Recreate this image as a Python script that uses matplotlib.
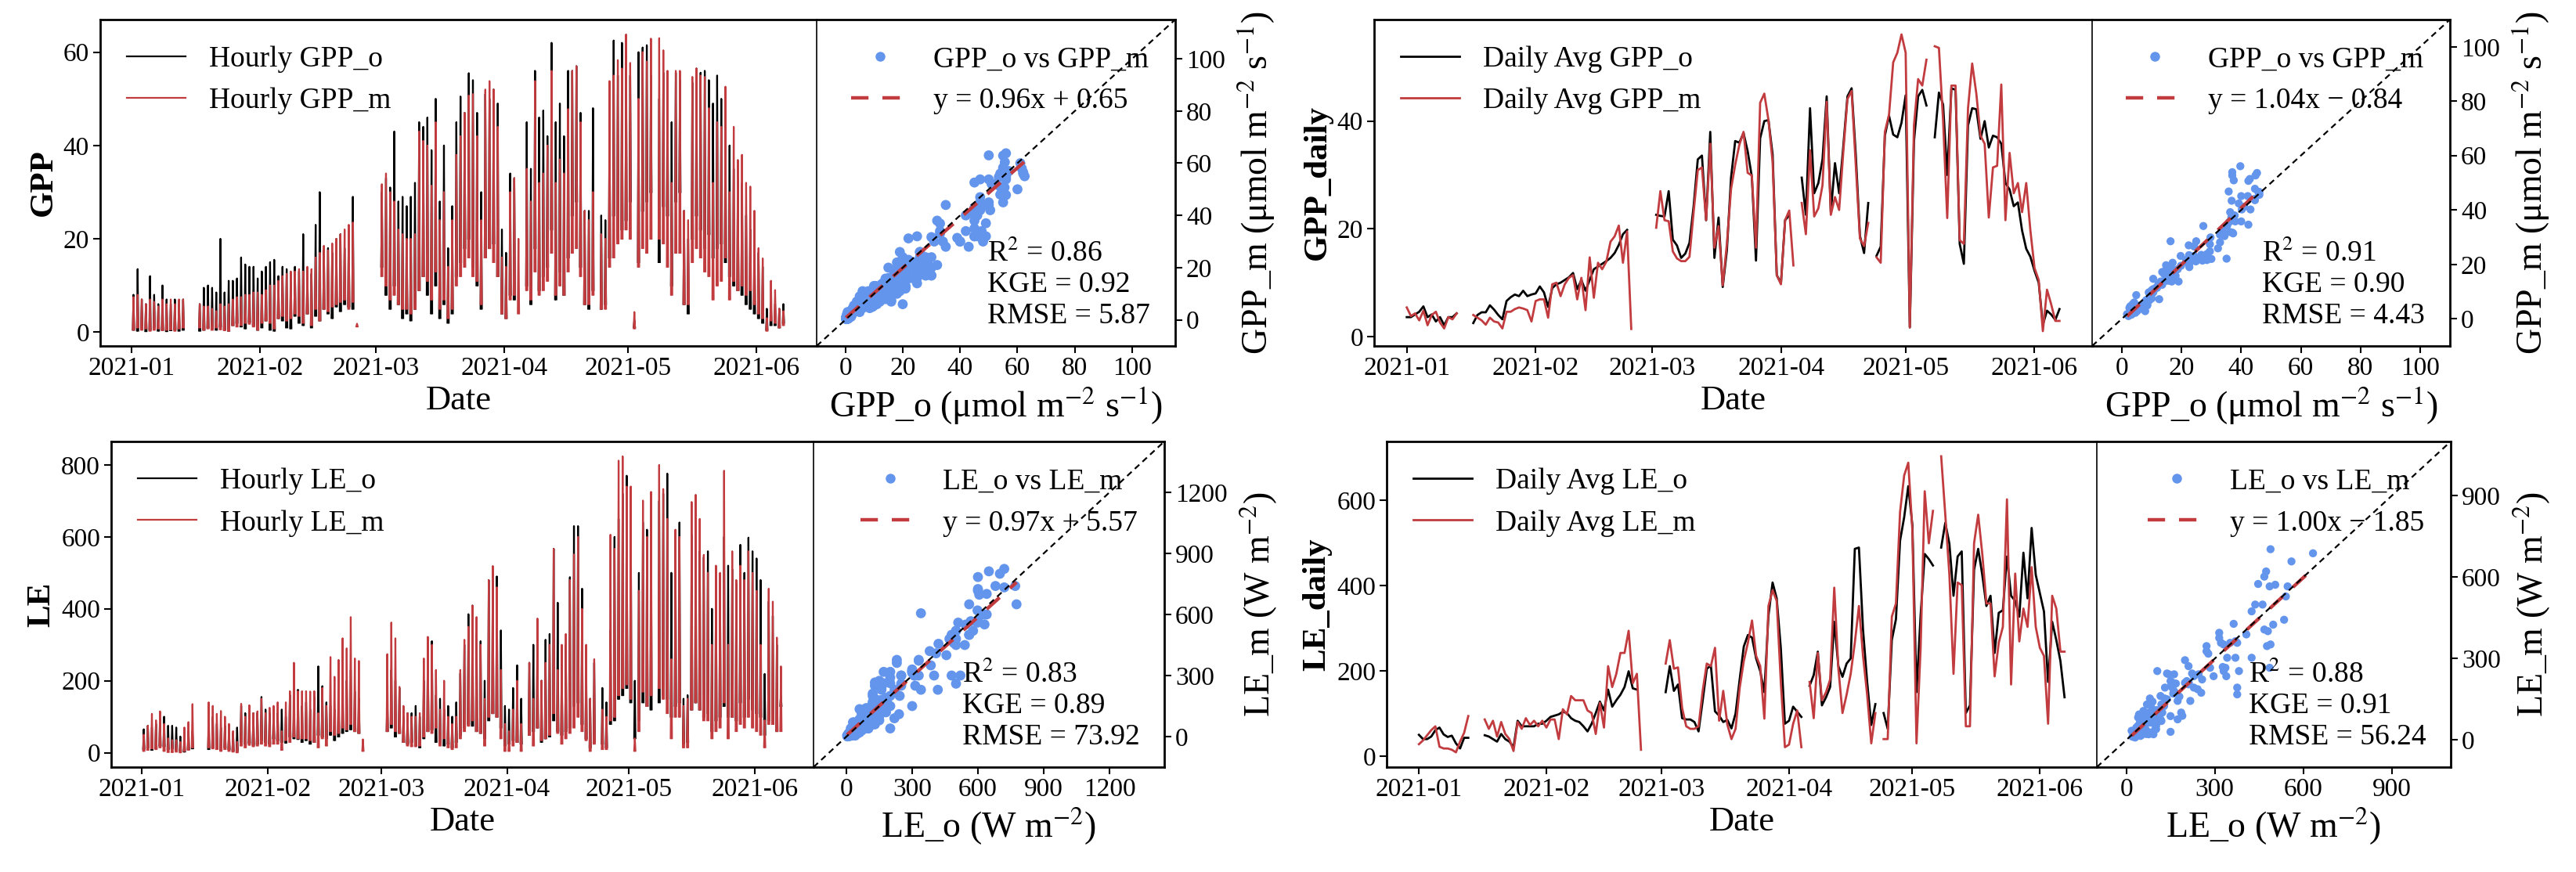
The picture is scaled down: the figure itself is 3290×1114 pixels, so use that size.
import numpy as np
import pandas as pd
import matplotlib
matplotlib.use('Agg')
import matplotlib.pyplot as plt
import matplotlib.dates as mdates
from matplotlib.lines import Line2D

plt.rcParams['font.family'] = ['Liberation Serif', 'DejaVu Serif']
plt.rcParams['mathtext.fontset'] = 'stix'

nan = np.nan
days = pd.date_range('2021-01-01', periods=158, freq='D')
sample_hours = [8, 12, 16]   # morning, midday, afternoon sample of each day

# ---------------- hourly GPP (daily low / peak of the hourly curve) ----------------
gpp_h_o_hi = [8, 13.5, 7, 6, 12, 8, 6, 10, 7, 6, 7, 6, 7,
              nan, nan, nan,
              6, 9.5, 10, 9.5, 8.5, 20, 8.5, 11, 11, 11.5, 16, 14.5, 14, 14, 11.5,
              13, 14, 15, 15.5, 12, 14, 13.5, 10.5, 14, 13, 21, 13, 12.5, 23, 30, 17.5,
              18, 17, 20, 21, 18, 22, 29,
              nan, nan, nan, nan, nan, nan,
              30, 33, 31, 43, 28, 29, 27, 29, 32, 45, 44, 46, 39, 50, 28, 40, 18, 27, 45, 50.5,
              47, 55.5, 54, 47, 30, 51, 50, 52, 49, 22, 17, 34, 33,
              nan, nan,
              45, 35, 56, 46, 47.5, 42, 62, 45, 49, 42, 56, 56, 57, 47, 26, 26, 48,
              nan,
              25, 24, 47, 62.5, 55, 62, 56, 55, 2.5, 60, 61, 61.5, 55,
              nan,
              50, 55.6, 55, 45, 55.6, 54, 26, 20, 53.5, 56.5, 55.6, 56, 54, 49, 55, 50, 45, 40,
              35, 33, 32, 25, 22, 19, 17, 14, 5, 6, 6, 5, 6]
gpp_h_o_lo = [0.5, 0.3, 0.8, 0.2, 0.5, 1.0, 0.3, 0.5, 0.2, 0.4, 0.6, 0.3, 0.5,
              nan, nan, nan,
              0.3, 0.5, 1.0, 0.8, 0.5, 1.2, 0.6, 0.3, 1.5, 2.0, 1.2, 0.8, 2.2, 1.5, 0.5,
              1.0, 2.5, 0.5, 0.3, 3.0, 2.5, 1.0, 0.8, 3.5, 2.0, 1.5, 4.0, 1.0, 3.5, 2.5, 5.0,
              4.0, 3.0, 5.5, 4.5, 6.0, 5.5, 5.0,
              nan, nan, nan, nan, nan, nan,
              14, 8, 5, 10, 6, 3, 4, 2.5, 5, 9, 12, 8, 4, 10, 3, 6, 2, 4, 12, 15,
              18, 20, 14, 10, 5, 16, 18, 19, 12, 4, 3, 8, 7,
              nan, nan,
              10, 6, 18, 9, 12, 14, 22, 7, 13, 8, 16, 25, 28, 14, 6, 5, 9,
              nan,
              5, 6, 16, 25, 20, 22, 24, 28, 1.0, 15, 26, 28, 30,
              nan,
              15, 27, 25, 10, 28, 30, 6, 4, 20, 25, 22, 18, 21, 16, 18, 19, 15, 12,
              10, 9, 8, 6, 5, 4, 3, 2, 0.5, 1.5, 1.5, 1.0, 2.0]
gpp_h_m_hi = [7.5, 8, 7, 6, 7, 6.5, 5.5, 7, 6, 7, 6, 7, 7,
              nan, nan, nan,
              6, 5.5, 5.5, 5, 4.5, 6, 5.5, 6, 7, 7.5, 7.5, 8, 8, 8.5, 8.5,
              8, 9, 10, 10, 11, 12, 12.5, 13, 13, 13.5, 13, 14, 13.5, 16, 17, 18.5,
              17.5, 19, 20, 21, 22, 23, 23.5, 1.8,
              nan, nan, nan, nan, nan,
              31.7, 34, 30, 28, 22, 21, 20, 20, 21, 43, 41, 40, 31.4, 45, 24, 30, 14, 24, 38, 42,
              47, 50.7, 51, 42, 24, 52, 53.8, 52, 44, 16, 14, 30, 33, 20,
              nan,
              35, 28, 53.8, 32, 34, 40, 56, 32, 37, 34, 47.8, 56, 57, 45, 26, 24, 30,
              nan,
              21, 20, 53.8, 55, 58.3, 56.5, 63.8, 57.7, 4.3, 50, 60, 58, 62.9,
              nan,
              63, 60.4, 56, 32, 56, 56, 26, 24, 54.7, 56.5, 55, 54.7, 48, 32, 45, 44, 52.6, 30,
              44, 36.9, 38, 32, 31.2, 26, 18, 15.8, 3, 11, 9, 5, 4.5]
gpp_h_m_lo = [0.5, 1.0, 0.5, 0.8, 0.3, 0.5, 0.8, 0.4, 0.5, 0.6, 0.3, 0.8, 1.0,
              nan, nan, nan,
              1.0, 0.5, 0.8, 0.5, 1.0, 0.6, 0.4, 0.3, 1.5, 1.2, 1.5, 2.0, 1.8, 1.2, 0.5,
              2.0, 2.5, 2.0, 0.8, 3.0, 3.5, 2.5, 3.0, 4.0, 3.5, 2.0, 4.0, 1.5, 5.0, 2.5, 5.0,
              4.5, 5.5, 6.0, 6.5, 7.0, 5.0, 6.5, 1.2,
              nan, nan, nan, nan, nan,
              12, 10, 7, 8, 6, 5, 5, 4, 5, 9, 12, 11, 7, 13, 5, 7, 3, 5, 10, 12,
              14, 16, 12, 11, 6, 16, 18, 15, 12, 4, 3, 7, 8, 4,
              nan,
              9, 7, 13, 8, 9, 11, 17, 8, 10, 8, 13, 17, 18, 12, 6, 6, 8,
              nan,
              5, 5, 14, 16, 19, 20, 22, 20, 0.8, 14, 18, 17, 20,
              nan,
              20, 19, 14, 8, 17, 17, 6, 6, 15, 18, 16, 13, 12, 7, 10, 11, 16, 7,
              11, 9, 10, 8, 9, 6, 4, 3, 0.3, 2.5, 2, 1, 1.5]

# ---------------- hourly LE ----------------
le_h_o_hi = [65, 75, 70, 80, 95, 100, 75, 75, 70, 45, 35, 60, 60,
             nan, nan, nan,
             90, 100, 80, 70, 75, 60, 55, 70, 130, 110, 120, 110, 110, 155, 120, 110,
             120, 110, 120, 100, 160, 130, 175, 130, 140, 120, 155, 240, 185, 140, 130, 120,
             150, 170, 200, 230, 170, 150,
             nan, nan, nan, nan, nan, nan,
             150, 230, 200, 180, 100, 110, 110, 130, 100, 200, 300, 310, 160, 150, 120, 130, 100,
             140, 220, 300, 385, 409, 330, 310, 200, 480, 500, 490, 340, 130, 120, 180, 243, 150,
             nan,
             250, 300, 330, 200, 314, 330, 567, 417, 250, 300, 488, 630, 630, 456, 250, 150, 250,
             nan,
             180, 140, 340, 600, 650, 720, 770, 680, 200, 500, 640, 620, 600,
             nan,
             700, 720, 776, 500, 598, 640, 150, 160, 606, 600, 560, 543, 560, 400, 500, 480, 600,
             520, 510, 470, 578, 500, 598, 560, 540, 480, 219, 420, 380, 300, 160]
le_h_o_lo = [10, 15, 8, 12, 20, 18, 10, 12, 8, 5, 3, 10, 12,
             nan, nan, nan,
             10, 15, 12, 8, 15, 10, 6, 5, 30, 25, 28, 22, 25, 35, 30, 25,
             40, 35, 30, 28, 45, 40, 38, 30, 35, 25, 30, 50, 45, 40, 50, 35,
             45, 55, 60, 65, 60, 55,
             nan, nan, nan, nan, nan, nan,
             60, 70, 45, 55, 30, 25, 30, 20, 15, 40, 60, 65, 30, 25, 20, 25, 15,
             30, 50, 70, 80, 75, 60, 55, 40, 90, 110, 100, 70, 20, 25, 35, 30, 25,
             nan,
             50, 60, 70, 30, 40, 45, 90, 60, 50, 60, 70, 130, 140, 80, 40, 15, 30,
             nan,
             25, 15, 80, 90, 150, 160, 180, 140, 40, 90, 140, 130, 120,
             nan,
             140, 160, 150, 100, 130, 140, 25, 30, 120, 140, 120, 100, 110, 60, 90, 100, 130,
             100, 100, 90, 140, 100, 150, 120, 110, 100, 50, 90, 80, 60, 130]
le_h_m_hi = [50, 75, 108, 90, 115, 80, 40, 35, 35, 30, 70, 85, 135,
             nan, nan, nan,
             140, 130, 108, 116, 100, 80, 60, 30, 136, 100, 132, 110, 115, 150, 110, 125,
             130, 140, 60, 140, 171, 250, 171, 171, 171, 170, 171, 110, 180, 130, 266, 211,
             258, 318, 290, 377, 262, 255, 37,
             nan, nan, nan, nan, nan,
             274, 362, 318, 183, 130, 110, 100, 100, 110, 262, 322, 300, 230, 120, 200, 100, 80,
             100, 230, 314, 350, 409, 377, 300, 150, 480, 519, 460, 230, 80, 60, 120, 200, 80,
             nan,
             250, 150, 373, 200, 250, 300, 567, 230, 300, 330, 480, 551, 600, 400, 300, 150, 260,
             nan,
             120, 100, 606, 567, 812, 824, 740, 740, 40, 450, 701, 600, 725,
             nan,
             800, 733, 650, 260, 620, 600, 130, 150, 697, 717, 650, 550, 500, 300, 520, 500, 784,
             300, 560, 480, 520, 480, 560, 500, 450, 300, 90, 456, 420, 320, 240]
le_h_m_lo = [5, 8, 12, 10, 15, 5, 2, 2, 3, 1, 5, 8, 15,
             nan, nan, nan,
             15, 12, 10, 5, 10, 5, 3, 1, 20, 15, 22, 18, 20, 25, 20, 18,
             25, 25, 8, 35, 30, 45, 40, 40, 40, 35, 30, 15, 40, 20, 60, 50,
             55, 70, 65, 80, 60, 55, 5,
             nan, nan, nan, nan, nan,
             60, 80, 60, 55, 30, 20, 18, 18, 20, 45, 60, 55, 70, 20, 40, 15, 10,
             15, 40, 60, 75, 90, 60, 55, 20, 100, 110, 100, 40, 5, 5, 20, 30, 5,
             nan,
             50, 20, 70, 35, 40, 50, 110, 55, 25, 40, 55, 70, 100, 60, 35, 5, 25,
             nan,
             10, 10, 90, 100, 160, 180, 190, 150, 5, 60, 170, 130, 160,
             nan,
             180, 150, 110, 40, 100, 100, 15, 15, 120, 140, 120, 90, 90, 40, 60, 70, 140,
             40, 100, 60, 80, 70, 100, 70, 60, 50, 15, 80, 80, 60, 60]

# ---------------- daily averages ----------------
gpp_d_o = [3.6, 3.6, 4.1, 4.6, 5.6, 3.6, 4.1, 2.8, 3.6, 2.1, 3.6, 3.6, 4.3,
           nan, nan, nan,
           2.5, 4.0, 4.5, 4.5, 5.8, 5.0, 4.0, 3.2, 6.6, 7.3, 7.8, 7.5, 8.5, 7.5, 7.8,
           8.0, 9.3, 8.2, 5.5, 9.0, 9.7, 10.0, 10.5, 11.0, 11.8, 8.8, 10.5, 8.5, 10.5, 12.5, 13.0,
           13.5, 14.0, 14.6, 15.5, 17.0, 19.0, 19.8,
           nan, nan, nan, nan, nan, nan,
           22.6, 22.4, 22.3, 27.0, 18.0, 16.9, 14.6, 15.4, 17.4, 24.2, 32.9, 33.6, 21.6, 38.0, 14.6, 22.1,
           9.2, 16.0, 29.5, 36.3, 36.0, 37.8, 34.4, 29.7, 14.1, 36.8, 40.0, 40.2, 33.8, 11.4, 9.9, 21.6, 22.5,
           nan, nan,
           29.5, 22.6, 42.4, 26.6, 28.5, 32.9, 44.6, 23.1, 32.2, 26.6, 35.3, 44.6, 46.1, 33.8, 18.7, 15.5, 24.8,
           nan,
           15.0, 16.7, 37.3, 41.0, 37.5, 37.0, 39.7, 44.8, 1.7, 36.3, 44.6, 45.8, 42.9,
           nan,
           37.0, 45.3, 43.1, 30.0, 46.1, 45.8, 17.2, 13.5, 39.2, 42.4, 42.2, 36.7, 40.0, 35.1, 37.3, 37.0,
           35.8, 28.5, 27.3, 24.2, 24.9, 19.7, 16.3, 14.8, 12.2, 10.0, 2.2, 4.8, 4.1, 3.1, 5.1]
gpp_d_m = [5.4, 3.8, 4.3, 3.0, 4.8, 2.1, 4.0, 4.6, 2.6, 1.5, 3.6, 3.2, 4.3,
           nan, nan, nan,
           4.0, 3.5, 3.0, 2.2, 3.5, 2.8, 2.6, 1.5, 4.6, 4.6, 5.1, 5.4, 5.2, 4.9, 2.8,
           6.6, 6.9, 6.9, 3.5, 9.7, 10.0, 7.5, 9.7, 10.9, 11.4, 6.9, 10.9, 4.9, 14.7, 7.2, 13.7,
           12.5, 13.9, 17.6, 18.6, 20.6, 13.7, 19.5, 1.4,
           nan, nan, nan, nan, nan,
           20.2, 27.0, 21.6, 21.4, 15.8, 14.5, 14.0, 14.0, 14.8, 23.1, 30.9, 31.4, 21.6, 35.8, 16.5, 20.5,
           9.5, 17.2, 27.4, 31.9, 35.6, 38.0, 30.4, 29.9, 16.5, 43.4, 45.1, 40.2, 32.4, 11.4, 9.7, 21.6, 23.4, 13.2,
           nan,
           24.8, 19.0, 34.6, 22.3, 23.8, 28.1, 43.6, 22.6, 25.9, 23.5, 34.3, 44.1, 45.6, 31.9, 18.2, 16.8, 21.1,
           nan,
           14.7, 13.7, 38.0, 41.2, 50.9, 52.7, 56.1, 52.7, 1.7, 39.2, 47.8, 46.6, 51.4,
           nan,
           53.9, 53.6, 40.2, 22.0, 46.6, 46.6, 17.9, 17.2, 42.4, 50.7, 45.1, 37.3, 35.8, 22.1, 31.4, 31.7,
           46.8, 21.6, 34.1, 26.6, 28.5, 23.1, 28.5, 19.7, 12.7, 10.5, 1.0, 8.7, 6.0, 2.9, 2.9]
le_d_o = [50, 40, 40, 46, 61, 67, 51, 45, 48, 30, 18, 43, 43,
          nan, nan, nan,
          49, 46, 40, 34, 52, 40, 34, 21, 83, 70, 70, 70, 70, 76, 76, 83,
          92, 95, 98, 104, 101, 89, 83, 80, 70, 58, 76, 101, 128, 107, 156, 116,
          131, 144, 162, 199, 159, 156,
          nan, nan, nan, nan, nan, nan,
          150, 211, 153, 168, 89, 86, 86, 80, 58, 130, 205, 212, 105, 95, 80, 85, 65,
          100, 180, 257, 284, 278, 229, 199, 150, 330, 407, 370, 254, 76, 83, 116, 104, 92,
          nan,
          165, 190, 245, 119, 138, 162, 315, 211, 186, 217, 229, 486, 489, 296, 174, 73, 122,
          nan,
          101, 64, 272, 321, 505, 560, 633, 541, 150, 330, 474, 462, 447,
          nan,
          489, 547, 498, 376, 468, 480, 101, 119, 437, 486, 425, 352, 376, 242, 336, 342,
          468, 376, 364, 327, 477, 370, 535, 425, 382, 339, 174, 315, 272, 223, 138]
le_d_m = [28, 37, 49, 61, 70, 22, 18, 18, 15, 9, 34, 55, 94,
          nan, nan, nan,
          86, 64, 83, 46, 80, 52, 40, 12, 80, 64, 89, 73, 83, 70, 83, 67,
          86, 86, 40, 110, 98, 141, 131, 131, 131, 107, 101, 52, 125, 67, 211, 162,
          193, 242, 242, 294, 171, 193, 15,
          nan, nan, nan, nan, nan,
          217, 272, 205, 208, 113, 70, 64, 64, 70, 153, 217, 211, 254, 83, 153, 74, 40,
          64, 160, 223, 266, 318, 235, 211, 88, 352, 389, 364, 174, 21, 27, 76, 107, 21,
          nan,
          174, 89, 242, 131, 150, 180, 395, 205, 101, 144, 193, 266, 352, 235, 144, 30, 101,
          nan,
          40, 40, 327, 358, 572, 658, 688, 529, 30, 254, 621, 499, 575,
          nan,
          703, 566, 425, 193, 407, 401, 70, 70, 499, 566, 474, 358, 358, 187, 266, 303,
          602, 168, 428, 269, 346, 303, 443, 303, 254, 235, 76, 376, 346, 245, 245]

# fit line (slope, intercept) and scores printed on each scatter
fit_gpp_h = (0.96, 0.65); stats_gpp_h = (0.86, 0.92, 5.87)
fit_gpp_d = (1.04, -0.84); stats_gpp_d = (0.91, 0.90, 4.43)
fit_le_h = (0.97, 5.57); stats_le_h = (0.83, 0.89, 73.92)
fit_le_d = (1.00, -1.85); stats_le_d = (0.88, 0.91, 56.24)

RED = '#c13b3f'
BLUE = 'cornflowerblue'
TICK_FS, LEG_FS, LAB_FS, SC_LAB_FS = 24, 27, 32, 33


def hourly(lo, hi):
    t, v = [], []
    for day, a, b in zip(days, lo, hi):
        for h, val in zip(sample_hours, (a, b, a)):
            t.append(day + pd.Timedelta(hours=h))
            v.append(val)
        t.append(day + pd.Timedelta(hours=20))
        v.append(nan)
    return t, v


def fmt_fit(a, b):
    sign = '+' if b >= 0 else '\u2212'
    return f'y = {a:.2f}x {sign} {abs(b):.2f}'


def panel(ax, sc, t_o, v_o, t_m, v_m, lw, labels, ylab, xo, ym, fit, stats,
          lims, ticks, names, unit, ms):
    ax.plot(t_o, v_o, color='black', lw=lw, label=labels[0])
    ax.plot(t_m, v_m, color=RED, lw=lw, label=labels[1])
    ax.legend(loc='upper left', frameon=False, fontsize=LEG_FS)
    ax.xaxis.set_major_locator(mdates.MonthLocator())
    ax.xaxis.set_major_formatter(mdates.DateFormatter('%Y-%m'))
    ax.set_xlabel('Date', fontsize=LAB_FS)
    ax.set_ylabel(ylab, fontsize=31, fontweight='bold')
    ax.spines['right'].set_visible(False)

    xo = np.asarray(xo, float); ym = np.asarray(ym, float)
    ok = ~np.isnan(xo) & ~np.isnan(ym)
    xo, ym = xo[ok], ym[ok]
    sc.scatter(xo, ym, s=ms, color=BLUE, edgecolors='none', zorder=2)
    xs = np.array([xo.min(), xo.max()])
    sc.plot(xs, fit[0] * xs + fit[1], color=RED, lw=3.2, ls=(0, (5, 4)), zorder=3)
    sc.axline((0, 0), slope=1, color='black', lw=1.6, ls=(0, (3.5, 2.5)), zorder=4)
    sc.set_xlim(lims); sc.set_ylim(lims)
    sc.set_xticks(ticks); sc.set_yticks(ticks)
    sc.yaxis.tick_right(); sc.yaxis.set_label_position('right')
    sc.set_xlabel(f'{names[0]} ({unit})', fontsize=SC_LAB_FS)
    sc.set_ylabel(f'{names[1]} ({unit})', fontsize=SC_LAB_FS, labelpad=10)
    sc.spines['left'].set_linewidth(1.2)
    handles = [Line2D([], [], ls='none', marker='o', ms=8, color=BLUE),
               Line2D([], [], color=RED, lw=3.2, ls=(0, (5, 4)))]
    sc.legend(handles, [f'{names[0]} vs {names[1]}', fmt_fit(*fit)],
              loc='upper right', frameon=False, fontsize=LEG_FS)
    sc.text(0.93, 0.05, f'R$^2$ = {stats[0]:.2f}\nKGE = {stats[1]:.2f}\nRMSE = {stats[2]:.2f}',
            transform=sc.transAxes, ha='right', va='bottom', ma='left', fontsize=LEG_FS)

    for a in (ax, sc):
        a.tick_params(labelsize=TICK_FS, direction='out', length=6.5, width=1.5)
        for s in ('top', 'bottom', 'right', 'left'):
            if not (a is sc and s == 'left'):
                a.spines[s].set_linewidth(2)


W, H = 3291, 1114
fig = plt.figure(figsize=(W / 100, H / 100), dpi=100)


def box(x0, x1, y0, y1):
    return [x0 / W, 1 - y1 / H, (x1 - x0) / W, (y1 - y0) / H]


ax1 = fig.add_axes(box(128, 1043, 25, 442)); sc1 = fig.add_axes(box(1043, 1501, 25, 442))
ax2 = fig.add_axes(box(1755, 2672, 25, 442)); sc2 = fig.add_axes(box(2672, 3129, 25, 442))
ax3 = fig.add_axes(box(142, 1039, 564, 980)); sc3 = fig.add_axes(box(1039, 1487, 564, 980))
ax4 = fig.add_axes(box(1771, 2678, 564, 980)); sc4 = fig.add_axes(box(2678, 3130, 564, 980))

gpp_unit = 'μmol m$^{-2}$ s$^{-1}$'
le_unit = 'W m$^{-2}$'

t, v_o = hourly(gpp_h_o_lo, gpp_h_o_hi)
_, v_m = hourly(gpp_h_m_lo, gpp_h_m_hi)
panel(ax1, sc1, t, v_o, t, v_m, 1.6, ['Hourly GPP_o', 'Hourly GPP_m'], 'GPP',
      gpp_h_o_lo + gpp_h_o_hi, gpp_h_m_lo + gpp_h_m_hi, fit_gpp_h, stats_gpp_h,
      (-10, 115), range(0, 101, 20), ('GPP_o', 'GPP_m'), gpp_unit, 85)

panel(ax2, sc2, days, gpp_d_o, days, gpp_d_m, 2.0, ['Daily Avg GPP_o', 'Daily Avg GPP_m'],
      'GPP_daily', gpp_d_o, gpp_d_m, fit_gpp_d, stats_gpp_d,
      (-10, 110), range(0, 101, 20), ('GPP_o', 'GPP_m'), gpp_unit, 55)

t, v_o = hourly(le_h_o_lo, le_h_o_hi)
_, v_m = hourly(le_h_m_lo, le_h_m_hi)
panel(ax3, sc3, t, v_o, t, v_m, 1.6, ['Hourly LE_o', 'Hourly LE_m'], 'LE',
      le_h_o_lo + le_h_o_hi, le_h_m_lo + le_h_m_hi, fit_le_h, stats_le_h,
      (-150, 1450), range(0, 1201, 300), ('LE_o', 'LE_m'), le_unit, 85)

panel(ax4, sc4, days, le_d_o, days, le_d_m, 2.0, ['Daily Avg LE_o', 'Daily Avg LE_m'],
      'LE_daily', le_d_o, le_d_m, fit_le_d, stats_le_d,
      (-100, 1100), range(0, 901, 300), ('LE_o', 'LE_m'), le_unit, 55)

fig.savefig('out.png', dpi=100)
